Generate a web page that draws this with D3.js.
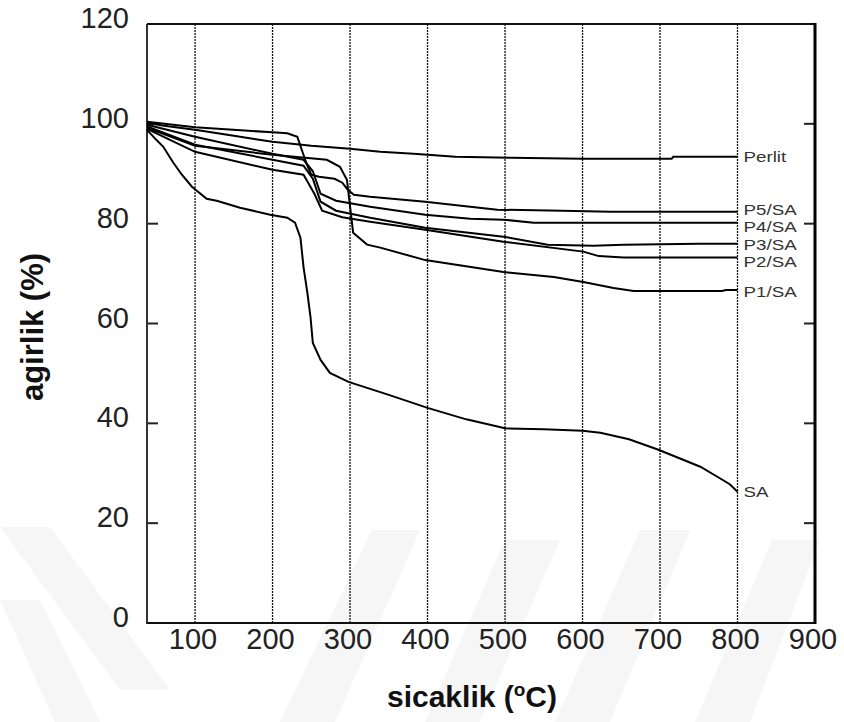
<!DOCTYPE html>
<html>
<head>
<meta charset="utf-8">
<script src="https://cdn.jsdelivr.net/npm/d3@7"></script>
<style>
  body { margin: 0; background: #fff; }
  svg { display: block; font-family: "Liberation Sans", Arial, sans-serif; }
</style>
</head>
<body>
<div class="tga"></div>
<script>
// temperature (C) / weight (%) readings for each sample
const seriesNames = ["Perlit", "P5/SA", "P4/SA", "P3/SA", "P2/SA", "P1/SA", "SA"];

const perlit = [[38,100.2],[60,99.6],[100,98.8],[150,97.6],[200,96.4],[250,95.6],[300,95.0],[339,94.4],[382,94.0],[436,93.4],[507,93.2],[600,93.0],[715,93.0],[717,93.4],[800,93.4]];
const p5sa = [[38,100.4],[100,99.3],[200,98.3],[219,98.1],[232,97.4],[239,94.2],[244,92.0],[250,89.8],[260,89.4],[280,89.0],[290,88.2],[297,86.8],[305,85.8],[326,85.4],[397,84.4],[455,83.4],[490,82.8],[574,82.6],[636,82.4],[800,82.4]];
const p4sa = [[38,99.8],[100,97.4],[200,94.0],[240,92.8],[252,90.5],[262,86.0],[282,84.6],[326,83.4],[397,81.8],[455,81.0],[498,80.8],[537,80.2],[800,80.2]];
const p3sa = [[38,99.5],[100,95.8],[200,92.8],[240,91.6],[252,89.0],[262,84.4],[282,82.6],[326,81.2],[397,79.2],[498,77.4],[555,75.8],[614,75.6],[653,75.8],[750,76.0],[800,76.0]];
const p2sa = [[38,99.0],[100,94.4],[200,90.8],[240,89.8],[254,86.0],[264,82.6],[290,81.3],[326,80.4],[397,78.8],[498,76.4],[601,74.4],[621,73.5],[653,73.2],[800,73.2]];
const p1sa = [[38,99.2],[100,95.6],[200,93.8],[270,92.8],[287,91.4],[296,88.8],[299,84.8],[304,78.2],[322,75.8],[339,75.2],[397,72.7],[498,70.3],[563,69.3],[601,68.3],[640,67.1],[666,66.5],[780,66.5],[785,66.7],[800,66.7]];
const sa = [[38,98.8],[50,96.8],[59,95.4],[72,92.2],[83,89.8],[96,87.4],[115,85.0],[128,84.6],[158,83.2],[197,81.8],[219,81.2],[229,80.2],[236,77.2],[240,71.3],[245,66.1],[249,61.3],[252,56.1],[262,52.7],[274,50.1],[298,48.3],[350,45.7],[400,43.1],[450,40.8],[500,39.0],[550,38.8],[600,38.5],[623,38.1],[660,36.8],[698,34.7],[752,31.3],[774,29.3],[790,27.8],[800,26.3]];

const seriesData = [perlit, p5sa, p4sa, p3sa, p2sa, p1sa, sa];

const xTicks = [100, 200, 300, 400, 500, 600, 700, 800, 900];
const yTicks = [0, 20, 40, 60, 80, 100, 120];

const width = 844, height = 722;
const plotL = 147, plotR = 815, plotT = 24, plotB = 623;

const svg = d3.select(".tga").append("svg")
  .attr("width", width)
  .attr("height", height);

// faint background watermark
const wm = svg.append("g").attr("fill", "#f6f6f6");
[
  [[0,527],[50,527],[170,690],[120,690]],
  [[0,600],[40,600],[100,722],[55,722]],
  [[280,722],[335,722],[420,530],[372,530]],
  [[425,722],[480,722],[560,540],[505,540]],
  [[555,722],[610,722],[690,530],[640,530]],
  [[695,722],[750,722],[820,540],[772,540]]
].forEach(p => wm.append("polygon").attr("points", p.join(" ")));

const x = d3.scaleLinear().domain([38, 900]).range([plotL, plotR]);
const y = d3.scaleLinear().domain([0, 120]).range([plotB, plotT]);

// dotted vertical grid
svg.append("g").selectAll("line")
  .data(xTicks.filter(d => d < 900))
  .enter().append("line")
  .attr("x1", d => x(d)).attr("x2", d => x(d))
  .attr("y1", plotT).attr("y2", plotB)
  .attr("stroke", "#111")
  .attr("stroke-width", 1.3)
  .attr("stroke-dasharray", "2,1");

// left and right inner ticks
const tickG = svg.append("g").attr("stroke", "#222").attr("stroke-width", 2);
tickG.selectAll(".tl").data(yTicks).enter().append("line")
  .attr("x1", plotL).attr("x2", plotL + 11)
  .attr("y1", d => y(d)).attr("y2", d => y(d));
tickG.selectAll(".tr").data(yTicks).enter().append("line")
  .attr("x1", plotR - 11).attr("x2", plotR)
  .attr("y1", d => y(d)).attr("y2", d => y(d));

// frame
svg.append("line").attr("x1", plotL).attr("x2", plotL).attr("y1", plotT).attr("y2", plotB + 1)
  .attr("stroke", "#333").attr("stroke-width", 2);
svg.append("line").attr("x1", plotL).attr("x2", plotR).attr("y1", plotT).attr("y2", plotT)
  .attr("stroke", "#111").attr("stroke-width", 2);
svg.append("line").attr("x1", plotL).attr("x2", plotR).attr("y1", plotB).attr("y2", plotB)
  .attr("stroke", "#111").attr("stroke-width", 2);
svg.append("line").attr("x1", plotR).attr("x2", plotR).attr("y1", plotT - 1).attr("y2", plotB + 1)
  .attr("stroke", "#000").attr("stroke-width", 3);

// tick labels
svg.append("g").selectAll("text")
  .data(xTicks).enter().append("text")
  .attr("x", d => x(d) - 2)
  .attr("y", 649)
  .attr("text-anchor", "middle")
  .attr("font-size", 29)
  .attr("fill", "#222")
  .text(d => d);

svg.append("g").selectAll("text")
  .data(yTicks).enter().append("text")
  .attr("x", 129)
  .attr("y", d => y(d) + 4)
  .attr("text-anchor", "end")
  .attr("font-size", 29)
  .attr("fill", "#222")
  .text(d => d);

// axis titles
svg.append("text")
  .attr("transform", "translate(43,327) rotate(-90)")
  .attr("text-anchor", "middle")
  .attr("font-size", 31)
  .attr("font-weight", "bold")
  .attr("fill", "#111")
  .text("agirlik (%)");

const xt = svg.append("text")
  .attr("x", 472).attr("y", 707)
  .attr("text-anchor", "middle")
  .attr("font-size", 30)
  .attr("font-weight", "bold")
  .attr("fill", "#111");
xt.append("tspan").text("sicaklik (");
xt.append("tspan").attr("font-size", 19).attr("dy", -11).text("o");
xt.append("tspan").attr("dy", 11).text("C)");

// curves
const line = d3.line().x(d => x(d[0])).y(d => y(d[1]));
svg.append("g").selectAll("path")
  .data(seriesData).enter().append("path")
  .attr("d", line)
  .attr("fill", "none")
  .attr("stroke", "#000")
  .attr("stroke-width", 2);

// end labels, slightly widened like the original font
const labelNudge = [0, -2, 4, 1, 4, 2, 0];
svg.append("g").selectAll("text")
  .data(seriesNames).enter().append("text")
  .attr("transform", (d, i) => {
    const last = seriesData[i][seriesData[i].length - 1];
    return `translate(${x(last[0]) + 6},${y(last[1]) + labelNudge[i] + 5}) scale(1.25,1)`;
  })
  .attr("font-size", 15)
  .attr("fill", "#333")
  .text(d => d);
</script>
</body>
</html>
